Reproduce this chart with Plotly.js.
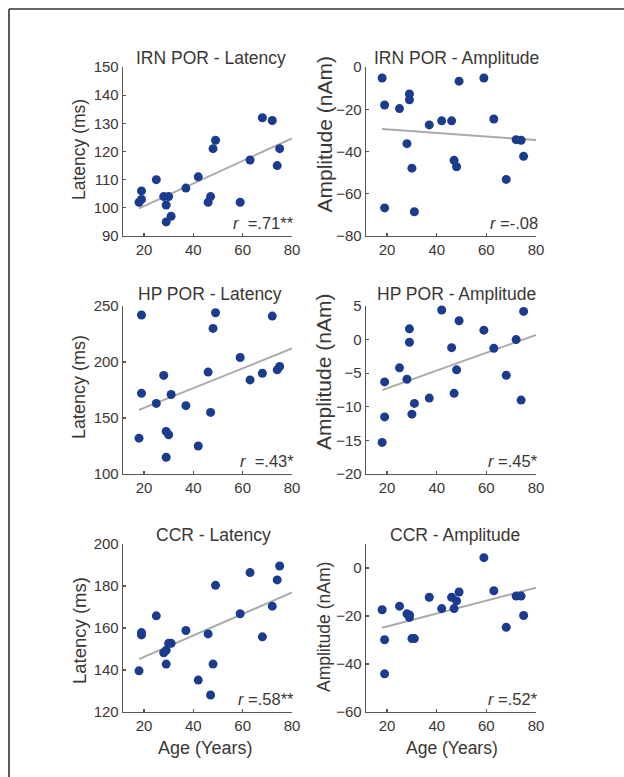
<!DOCTYPE html>
<html><head><meta charset="utf-8">
<script src="https://cdn.plot.ly/plotly-3.0.1.min.js"></script>
<style>html,body{margin:0;padding:0;background:#fff}#chart{width:624px;height:777px}</style>
</head><body><div id="chart"></div>
<script>
// Ages (years) of the 21 participants, shared by every panel
const age = [18,19,19,25,28,29,29,30,31,37,42,46,47,48,49,59,63,68,72,74,75];

// Panel values, in the same order as age
const irnLatency   = [102,106,103,110,104,101,95,104,97,107,111,102,104,121,124,102,117,132,131,115,121];
const irnAmplitude = [-5.2,-18,-66.7,-19.7,-36.3,-12.8,-15.5,-47.9,-68.5,-27.4,-25.5,-25.5,-44.2,-47.2,-6.7,-5.2,-24.6,-53.2,-34.4,-34.7,-42.3];
const hpLatency    = [132,242,172,163,188,138,115,135,171,161,125,191,155,230,244,204,184,190,241,193,196];
const hpAmplitude  = [-15.3,-6.3,-11.5,-4.2,-5.9,1.6,-0.4,-11.1,-9.5,-8.7,4.4,-1.2,-8.0,-4.5,2.8,1.4,-1.3,-5.3,0,-9.0,4.2];
const ccrLatency   = [139.6,157.8,156.7,165.8,148.2,149.4,142.8,152.7,152.7,158.8,135.2,157.2,128.1,142.8,180.3,166.8,186.4,155.8,170.4,182.9,189.5];
const ccrAmplitude = [-17.4,-29.9,-44.1,-15.9,-19.1,-19.6,-20.6,-29.4,-29.4,-12.2,-16.9,-12.2,-16.9,-13.7,-10.0,4.3,-9.5,-24.7,-11.7,-11.7,-19.8];

const panelTitles = ['IRN POR - Latency','IRN POR - Amplitude','HP POR - Latency','HP POR - Amplitude','CCR - Latency','CCR - Amplitude'];
const yTitles = ['Latency (ms)','Amplitude (nAm)','Latency (ms)','Amplitude (nAm)','Latency (ms)','Amplitude (nAm)'];
const rLabels = ['<i>r</i>  =.71**','<i>r</i> =-.08','<i>r</i>  =.43*','<i>r</i> =.45*','<i>r</i> =.58**','<i>r</i> =.52*'];
const xTicks = [20,40,60,80];
const xRange = [11.5,80];
const yRanges = [[90,150],[-80,0],[100,250],[-20,5],[120,200],[-60,10]];
const yTicks = [[90,100,110,120,130,140,150],[-80,-60,-40,-20,0],[100,150,200,250],[-20,-15,-10,-5,0,5],[120,140,160,180,200],[-60,-40,-20,0]];
const series = [irnLatency, irnAmplitude, hpLatency, hpAmplitude, ccrLatency, ccrAmplitude];
const xTitle = 'Age (Years)';

// ---- layout geometry (pixels) ----
const W = 624, H = 777;
const colPx = [[123,292],[366,536]];
const rowPx = [[67,236],[306,474],[544,712]];
const titleY = [58,294,535];
const titleX = [[211,457],[210,457],[213,455]];
const yTitleX = [79,324];
const yTitleYc = [[150,134.5],[387,372],[631,627]];
const yTitleSize = [[17.5,21],[18,21],[18.5,17.5]];
const FONT = 'Liberation Sans, Arial, Helvetica, sans-serif';
const textColor = '#3a3633';
const axisColor = '#5a5550';
const markerColor = '#1b3c8e';
const fitColor = '#aaaaaa';

function px2x(p){return p/W;}
function px2y(p){return 1-p/H;}

function linfit(x,y){
  const n=x.length; let sx=0,sy=0,sxx=0,sxy=0;
  for(let i=0;i<n;i++){sx+=x[i];sy+=y[i];sxx+=x[i]*x[i];sxy+=x[i]*y[i];}
  const b=(n*sxy-sx*sy)/(n*sxx-sx*sx); const a=(sy-b*sx)/n; return [a,b];
}

const data=[]; const layout={
  width:W, height:H, margin:{l:0,r:0,t:0,b:0}, paper_bgcolor:'#fff', plot_bgcolor:'rgba(0,0,0,0)',
  showlegend:false, font:{family:FONT,color:textColor}, annotations:[], shapes:[]
};

for(let k=0;k<6;k++){
  const r=Math.floor(k/2), c=k%2;
  const sfx = k===0?'':String(k+1);
  const xa='x'+sfx, ya='y'+sfx;
  const [a,b]=linfit(age,series[k]);
  const xmin=Math.min(...age), xmax=xRange[1];
  data.push({x:[xmin,xmax], y:[a+b*xmin,a+b*xmax], type:'scatter', mode:'lines', xaxis:xa, yaxis:ya,
             line:{color:fitColor,width:2}, hoverinfo:'skip'});
  data.push({x:age, y:series[k], type:'scatter', mode:'markers', xaxis:xa, yaxis:ya,
             marker:{color:markerColor,size:9,line:{width:0}}, cliponaxis:false});
  const common={showgrid:false, zeroline:false, showline:true, linecolor:axisColor, linewidth:1.3,
    ticks:'inside', ticklen:3, tickwidth:1.2, tickcolor:axisColor,
    tickfont:{family:FONT,size:15,color:textColor}, fixedrange:true};
  layout['xaxis'+sfx]=Object.assign({}, common, {domain:[px2x(colPx[c][0]),px2x(colPx[c][1])], range:xRange,
    tickvals:xTicks, anchor:ya});
  layout['yaxis'+sfx]=Object.assign({}, common, {domain:[px2y(rowPx[r][1]),px2y(rowPx[r][0])], range:yRanges[k],
    tickvals:yTicks[k], anchor:xa});
  // panel title
  layout.annotations.push({text:panelTitles[k], xref:'paper', yref:'paper', x:px2x(titleX[r][c]), y:px2y(titleY[r]),
    xanchor:'center', yanchor:'middle', showarrow:false, font:{family:FONT,size:17.5,color:textColor}});
  // y title
  layout.annotations.push({text:yTitles[k], xref:'paper', yref:'paper', x:px2x(yTitleX[c]), y:px2y(yTitleYc[r][c]),
    xanchor:'center', yanchor:'middle', textangle:-90, showarrow:false, font:{family:FONT,size:yTitleSize[r][c],color:textColor}});
  // r label
  layout.annotations.push({text:rLabels[k], xref:'paper', yref:'paper', x:px2x(colPx[c][1]+4), y:px2y(rowPx[r][1]-13),
    xanchor:'right', yanchor:'middle', showarrow:false, font:{family:FONT,size:16.5,color:textColor}});
}
// x titles
[205,452].forEach(function(cx,c){
  layout.annotations.push({text:xTitle, xref:'paper', yref:'paper', x:px2x(cx), y:px2y(748),
    xanchor:'center', yanchor:'middle', showarrow:false, font:{family:FONT,size:c===0?18:17.5,color:textColor}});
});
// figure frame (left and top edges)
layout.shapes.push({type:'line', xref:'paper', yref:'paper', x0:px2x(9), x1:px2x(9), y0:0, y1:px2y(9), line:{color:'#333',width:1.6}});
layout.shapes.push({type:'line', xref:'paper', yref:'paper', x0:px2x(9), x1:1, y0:px2y(9), y1:px2y(9), line:{color:'#333',width:1.6}});

Plotly.newPlot('chart', data, layout, {staticPlot:true, displayModeBar:false});
</script>
</body></html>
